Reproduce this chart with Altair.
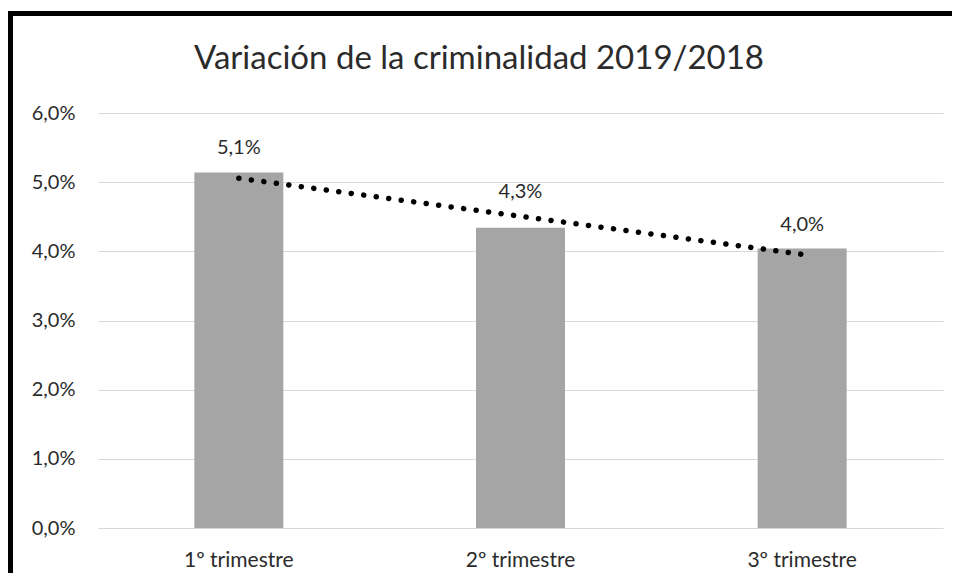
import altair as alt
import numpy as np
import pandas as pd

categories = ["1º trimestre", "2º trimestre", "3º trimestre"]
values = [0.0514, 0.0434, 0.0404]
title_text = "Variación de la criminalidad 2019/2018"
y_ticks = [0.0, 0.01, 0.02, 0.03, 0.04, 0.05, 0.06]

# linear trend line fitted to the series (Excel-style linear trendline)
idx = np.arange(1, len(values) + 1)
slope, intercept = np.polyfit(idx, values, 1)
trend = list(slope * idx + intercept)

df = pd.DataFrame({"cat": categories, "val": values, "trend": trend})
df["labelpos"] = df[["val", "trend"]].max(axis=1)

FONT = "Lato"
TXT = "#2b2b2b"

x_enc = alt.X("cat:N", sort=categories,
              scale=alt.Scale(paddingInner=0.684, paddingOuter=0.342),
              axis=alt.Axis(title=None, labelAngle=0, ticks=False, domain=False,
                            labelFontSize=21, labelFont=FONT, labelColor=TXT,
                            labelPadding=21))
y_scale = alt.Scale(domain=[0, 0.06], nice=False)

base = alt.Chart(df)

bars = base.mark_bar(color="#A5A5A5").encode(
    x=x_enc,
    y=alt.Y("val:Q", scale=y_scale,
            axis=alt.Axis(title=None, values=y_ticks, ticks=False, domain=False,
                          gridColor="#D9D9D9", gridWidth=1,
                          labelFontSize=20, labelFont=FONT, labelColor=TXT,
                          labelPadding=23,
                          labelExpr="replace(format(datum.value, '.1%'), '.', ',')")),
)

trend_line = base.mark_line(color="black", strokeWidth=5.5, strokeCap="round",
                            strokeDash=[0.1, 12.5]).encode(
    x=alt.X("cat:N", sort=categories),
    y=alt.Y("trend:Q", scale=y_scale),
)

labels = base.transform_calculate(
    lbl="replace(format(datum.val, '.1%'), '.', ',')"
).mark_text(font=FONT, fontSize=20, color=TXT, baseline="alphabetic", dy=-18).encode(
    x=alt.X("cat:N", sort=categories),
    y=alt.Y("labelpos:Q", scale=y_scale),
    text="lbl:N",
)

title = alt.Chart(pd.DataFrame({"t": [title_text]})).mark_text(
    font=FONT, fontSize=33, color=TXT, baseline="alphabetic", align="center"
).encode(
    x=alt.value(381), y=alt.value(-44), text="t:N",
)

border = alt.Chart(pd.DataFrame({"a": [0]})).mark_rect(
    filled=False, stroke="black", strokeWidth=5
).encode(
    x=alt.value(-87.5), x2=alt.value(900),
    y=alt.value(-99.5), y2=alt.value(520),
)

chart = alt.layer(bars, trend_line, labels, title, border).properties(
    width=845, height=415,
    padding={"left": 90, "top": 105, "right": 9, "bottom": 45},
    autosize=alt.AutoSizeParams(type="none"),
).configure_view(stroke=None)

chart.save("out.html", embed_options={"renderer": "svg", "actions": False})
